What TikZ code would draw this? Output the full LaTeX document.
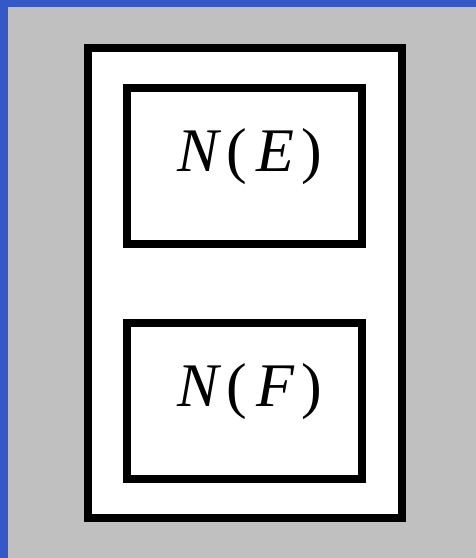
\documentclass[tikz,border=0pt]{standalone}
\usepackage{fontspec}
\setmainfont{Liberation Serif}
\usetikzlibrary{positioning}
\definecolor{nbblue}{HTML}{3558C8}
\definecolor{nbgray}{HTML}{C0C0C0}
\tikzset{
  nbox/.style={draw=black,line width=8pt,fill=white,minimum width=235pt,minimum height=156pt,inner sep=0pt},
  nlabel/.style={anchor=base,inner sep=0pt,font=\fontsize{62}{70}\selectfont}
}
\begin{document}
\begin{tikzpicture}[x=1pt,y=-1pt]
  \fill[nbgray] (0,0) rectangle (476,558);
  \useasboundingbox (0,0) rectangle (476,558);
  \fill[nbblue] (0,0) rectangle (8,558);
  \fill[nbblue] (0,0) rectangle (476,7);
  % frame and the two boxes
  \node[draw=black,line width=8pt,fill=white,minimum width=313.5pt,minimum height=470pt] (frame) at (244.75,283) {};
  \node[nbox] (ne) at (244.3,165.5) {};
  \node[nbox] (nf) at (244.3,400.5) {};
  \node[nlabel] (nelbl) at ([xshift=5.5pt,yshift=-6pt]ne.center) {\itshape N\kern8pt\upshape(\kern9pt\itshape E\kern7pt\upshape)};
  \node[nlabel] (nflbl) at ([xshift=5.5pt,yshift=-6pt]nf.center) {\itshape N\kern8pt\upshape(\kern9pt\itshape F\kern7pt\upshape)};
\end{tikzpicture}
\end{document}
